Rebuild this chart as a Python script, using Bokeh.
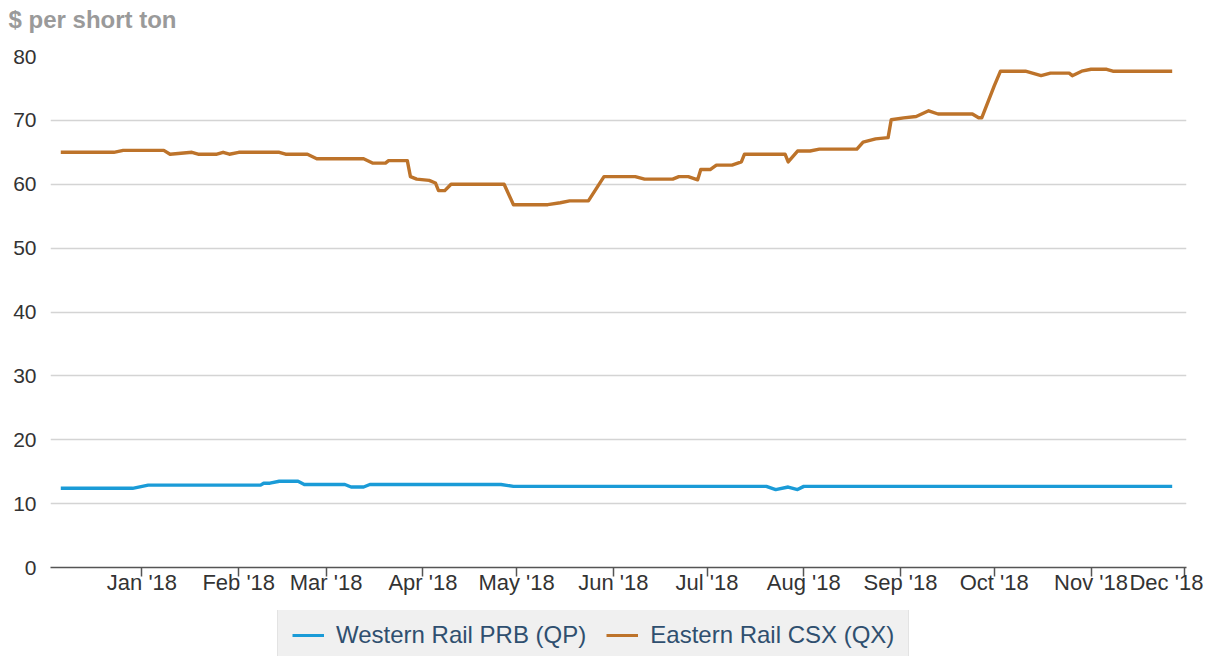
import pandas as pd
from bokeh.plotting import figure
from bokeh.layouts import column
from bokeh.models import ColumnDataSource, Range1d, FixedTicker, Legend, LegendItem, Title
from bokeh.embed import file_html
from bokeh.resources import INLINE

# ---- data ----
csx_dates = ["2017-12-06", "2017-12-23", "2017-12-26", "2018-01-08", "2018-01-10", "2018-01-17",
             "2018-01-19", "2018-01-25", "2018-01-27", "2018-01-29", "2018-02-01", "2018-02-14",
             "2018-02-16", "2018-02-23", "2018-02-26", "2018-03-13", "2018-03-16", "2018-03-20",
             "2018-03-21", "2018-03-27", "2018-03-28", "2018-03-30", "2018-04-03", "2018-04-05",
             "2018-04-06", "2018-04-08", "2018-04-10", "2018-04-27", "2018-04-30", "2018-05-11",
             "2018-05-15", "2018-05-18", "2018-05-24", "2018-05-29", "2018-06-08", "2018-06-11",
             "2018-06-20", "2018-06-22", "2018-06-25", "2018-06-28", "2018-06-29", "2018-07-02",
             "2018-07-04", "2018-07-09", "2018-07-12", "2018-07-13", "2018-07-26", "2018-07-27",
             "2018-07-30", "2018-08-03", "2018-08-06", "2018-08-18", "2018-08-20", "2018-08-24",
             "2018-08-28", "2018-08-29", "2018-09-02", "2018-09-06", "2018-09-10", "2018-09-13",
             "2018-09-24", "2018-09-26", "2018-09-27", "2018-10-01", "2018-10-03", "2018-10-11",
             "2018-10-16", "2018-10-19", "2018-10-25", "2018-10-26", "2018-10-29", "2018-11-01",
             "2018-11-06", "2018-11-08", "2018-11-27"]
csx_values = [65.0, 65.0, 65.3, 65.3, 64.7, 65.0,
              64.7, 64.7, 65.0, 64.7, 65.0, 65.0,
              64.7, 64.7, 64.0, 64.0, 63.3, 63.3,
              63.7, 63.7, 61.2, 60.8, 60.6, 60.2,
              59.0, 59.0, 60.0, 60.0, 56.8, 56.8,
              57.1, 57.4, 57.4, 61.2, 61.2, 60.8,
              60.8, 61.2, 61.2, 60.7, 62.3, 62.3,
              63.0, 63.0, 63.5, 64.7, 64.7, 63.5,
              65.2, 65.2, 65.5, 65.5, 66.6, 67.1,
              67.3, 70.1, 70.4, 70.6, 71.5, 71.0,
              71.0, 70.4, 70.4, 75.4, 77.7, 77.7,
              77.0, 77.4, 77.4, 77.0, 77.7, 78.0,
              78.0, 77.7, 77.7]

prb_dates = ["2017-12-06", "2017-12-29", "2018-01-03", "2018-02-08", "2018-02-09", "2018-02-11",
             "2018-02-14", "2018-02-20", "2018-02-22", "2018-03-07", "2018-03-09", "2018-03-13",
             "2018-03-15", "2018-04-26", "2018-04-30", "2018-07-20", "2018-07-23", "2018-07-27",
             "2018-07-30", "2018-08-01", "2018-11-27"]
prb_values = [12.4, 12.4, 12.9, 12.9, 13.2, 13.2,
              13.5, 13.5, 13.0, 13.0, 12.6, 12.6,
              13.0, 13.0, 12.7, 12.7, 12.2, 12.6,
              12.2, 12.7, 12.7]

tick_dates = ["2018-01-01", "2018-02-01", "2018-03-01", "2018-04-01", "2018-05-01", "2018-06-01",
              "2018-07-01", "2018-08-01", "2018-09-01", "2018-10-01", "2018-11-01", "2018-12-01"]
tick_labels = ["Jan '18", "Feb '18", "Mar '18", "Apr '18", "May '18", "Jun '18",
               "Jul '18", "Aug '18", "Sep '18", "Oct '18", "Nov '18",
               "Dec '18\u00a0"]  # last label nudged inside the edge
y_ticks = [0, 10, 20, 30, 40, 50, 60, 70, 80]

series_names = ["Western Rail PRB (QP)", "Eastern Rail CSX (QX)"]
series_colors = ["#1a9bd7", "#bd732a"]
title_text = "$ per short ton"


def ms(s):
    return pd.Timestamp(s).value / 1e6


src_csx = ColumnDataSource(dict(x=pd.to_datetime(csx_dates), y=csx_values))
src_prb = ColumnDataSource(dict(x=pd.to_datetime(prb_dates), y=prb_values))

FONT = "Liberation Sans"
W = 1209

p = figure(width=W, height=610, x_axis_type="datetime", title=None,
           x_range=Range1d(ms("2017-12-02 17:00"), ms("2018-12-01 14:00")),
           y_range=Range1d(0, 80),
           output_backend="svg", toolbar_location=None,
           min_border_left=50, min_border_right=23, min_border_top=56, min_border_bottom=43)
p.outline_line_color = None
p.background_fill_color = "white"

# spacer between frame and title, then the title itself (stacked outward)
p.add_layout(Title(text=" ", text_font_size="2px", standoff=20), "above")
p.add_layout(Title(text=title_text, align="left", offset=-42, standoff=0,
                   text_font=FONT, text_font_size="24px", text_font_style="bold",
                   text_color="#9a9a9a"), "above")

# x axis
tick_ms = [ms(d) for d in tick_dates]
p.xaxis.ticker = FixedTicker(ticks=tick_ms)
p.xaxis.major_label_overrides = {t: lab for t, lab in zip(tick_ms, tick_labels)}
p.xaxis.axis_line_color = "#555555"
p.xaxis.axis_line_width = 1.5
p.xaxis.major_tick_line_color = "#555555"
p.xaxis.major_tick_line_width = 1.5
p.xaxis.major_tick_in = 0
p.xaxis.major_tick_out = 9
p.xaxis.minor_tick_line_color = None
p.xaxis.major_label_standoff = -7
p.xaxis.major_label_text_font = FONT
p.xaxis.major_label_text_font_size = "22px"
p.xaxis.major_label_text_color = "#333333"
p.xgrid.grid_line_color = None

# y axis
p.yaxis.ticker = FixedTicker(ticks=y_ticks)
p.yaxis.axis_line_color = None
p.yaxis.major_tick_line_color = None
p.yaxis.minor_tick_line_color = None
p.yaxis.major_label_standoff = 8
p.yaxis.major_label_text_font = FONT
p.yaxis.major_label_text_font_size = "21px"
p.yaxis.major_label_text_color = "#333333"
p.ygrid.grid_line_color = "#d4d4d4"
p.ygrid.grid_line_width = 1.5

p.line("x", "y", source=src_csx, color=series_colors[1], line_width=3.4, line_join="round")
p.line("x", "y", source=src_prb, color=series_colors[0], line_width=3.4, line_join="round")

# legend strip below the chart (same series, out-of-view range so only the key shows)
leg = figure(width=W, height=46, x_range=p.x_range, y_range=Range1d(1000, 1001),
             output_backend="svg", toolbar_location=None,
             x_axis_location=None, y_axis_location=None,
             min_border_left=0, min_border_right=0, min_border_top=0, min_border_bottom=0)
leg.outline_line_color = None
leg.grid.visible = False
lr_prb = leg.line("x", "y", source=src_prb, color=series_colors[0], line_width=3.2)
lr_csx = leg.line("x", "y", source=src_csx, color=series_colors[1], line_width=3.2)

legend = Legend(items=[LegendItem(label=series_names[0], renderers=[lr_prb]),
                       LegendItem(label=series_names[1], renderers=[lr_csx])],
                orientation="horizontal", location=(227, -8),
                glyph_width=32, glyph_height=20, label_standoff=12, spacing=20,
                padding=14, margin=0,
                label_text_font=FONT, label_text_font_size="24px", label_text_color="#2f4f6f",
                background_fill_color="#f0f0f0", background_fill_alpha=1.0,
                border_line_color="#d6d6d6", border_line_width=1.5)
leg.add_layout(legend)

layout = column(p, leg, spacing=0)
open("out.html", "w").write(file_html(layout, INLINE))
